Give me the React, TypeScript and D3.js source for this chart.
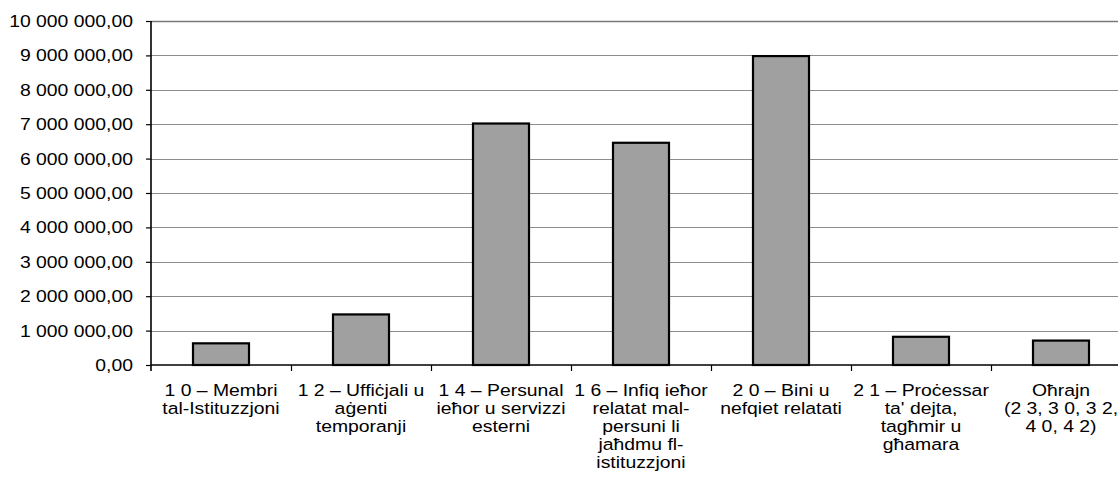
import React, {useEffect, useRef} from 'react';
import * as d3 from 'd3';

const categories = [
  '1 0 – Membri\ntal-Istituzzjoni',
  '1 2 – Uffiċjali u\naġenti\ntemporanji',
  '1 4 – Persunal\nieħor u servizzi\nesterni',
  '1 6 – Infiq ieħor\nrelatat mal-\npersuni li\njaħdmu fl-\nistituzzjoni',
  '2 0 – Bini u\nnefqiet relatati',
  "2 1 – Proċessar\nta' dejta,\ntagħmir u\ngħamara",
  'Oħrajn\n(2 3, 3 0, 3 2,\n4 0, 4 2)'
];

const values = [630000, 1470000, 7020000, 6460000, 8980000, 820000, 710000];

const yTicks = [0, 1000000, 2000000, 3000000, 4000000, 5000000, 6000000, 7000000, 8000000, 9000000, 10000000];

const W = 1118;
const H = 488;
const left = 151;
const right = 1131;
const top = 21;
const bottom = 365;
const stretch = 1.14;
const font = '"Liberation Sans", Arial, sans-serif';

const locale = d3.formatLocale({decimal: ',', thousands: ' ', grouping: [3], currency: ['', '']});
const fmt = locale.format(',.2f');

function App() {
  const ref = useRef<SVGSVGElement>(null);

  useEffect(() => {
    const svg = d3.select(ref.current);
    svg.selectAll('*').remove();

    const x = d3.scaleBand().domain(categories).range([left, right]).paddingInner(0.6).paddingOuter(0.3);
    const xCell = d3.scaleBand().domain(categories).range([left, right]);
    const y = d3.scaleLinear().domain([0, 10000000]).range([bottom, top]);

    // gridlines
    svg.append('g')
      .selectAll('line')
      .data(yTicks.slice(1))
      .join('line')
      .attr('x1', left)
      .attr('x2', right)
      .attr('y1', d => Math.round(y(d)) + 0.5)
      .attr('y2', d => Math.round(y(d)) + 0.5)
      .attr('stroke', d => d === 10000000 ? '#7a7a7a' : '#8c8c8c')
      .attr('stroke-width', d => d === 10000000 ? 1.6 : 1);

    // bars
    svg.append('g')
      .selectAll('rect')
      .data(values)
      .join('rect')
      .attr('x', (d, i) => x(categories[i])!)
      .attr('width', x.bandwidth())
      .attr('y', d => y(d))
      .attr('height', d => bottom - y(d))
      .attr('fill', '#a0a0a0')
      .attr('stroke', '#000')
      .attr('stroke-width', 2.2);

    // y axis
    const yAxis = svg.append('g')
      .attr('transform', `translate(${left},0)`)
      .call(d3.axisLeft(y).tickValues(yTicks).tickSize(5).tickSizeOuter(0).tickFormat(d => fmt(d as number)) as any);
    yAxis.select('.domain').attr('stroke', '#000').attr('stroke-width', 1.6).attr('d', `M0,${top}V${bottom + 6}`);
    yAxis.selectAll('.tick line').attr('stroke', '#000').attr('stroke-width', 1.2);
    yAxis.selectAll('.tick text')
      .attr('x', -18 / stretch)
      .attr('transform', `scale(${stretch},1)`)
      .attr('fill', '#000')
      .style('font-family', font)
      .style('font-size', '17px');

    // x axis
    const xg = svg.append('g');
    xg.append('line')
      .attr('x1', left).attr('x2', right)
      .attr('y1', bottom).attr('y2', bottom)
      .attr('stroke', '#000').attr('stroke-width', 1.6);
    xg.selectAll('line.tk')
      .data(categories.slice(1))
      .join('line')
      .attr('class', 'tk')
      .attr('x1', d => Math.round(xCell(d)!) + 0.5)
      .attr('x2', d => Math.round(xCell(d)!) + 0.5)
      .attr('y1', bottom)
      .attr('y2', bottom + 6)
      .attr('stroke', '#000')
      .attr('stroke-width', 1.2);

    const labels = xg.selectAll('text.lbl')
      .data(categories)
      .join('text')
      .attr('class', 'lbl')
      .attr('transform', d => `translate(${xCell(d)! + xCell.bandwidth() / 2},396) scale(${stretch},1)`)
      .attr('text-anchor', 'middle')
      .attr('fill', '#000')
      .style('font-family', font)
      .style('font-size', '17px');
    labels.selectAll('tspan')
      .data(d => d.split('\n'))
      .join('tspan')
      .attr('x', 0)
      .attr('y', (d, i) => i * 18)
      .text(d => d);
  });

  return (
    <svg ref={ref} width={W} height={H} style={{position: 'absolute', left: 0, top: 0, background: '#fff'}}/>
  );
}

export default App;
